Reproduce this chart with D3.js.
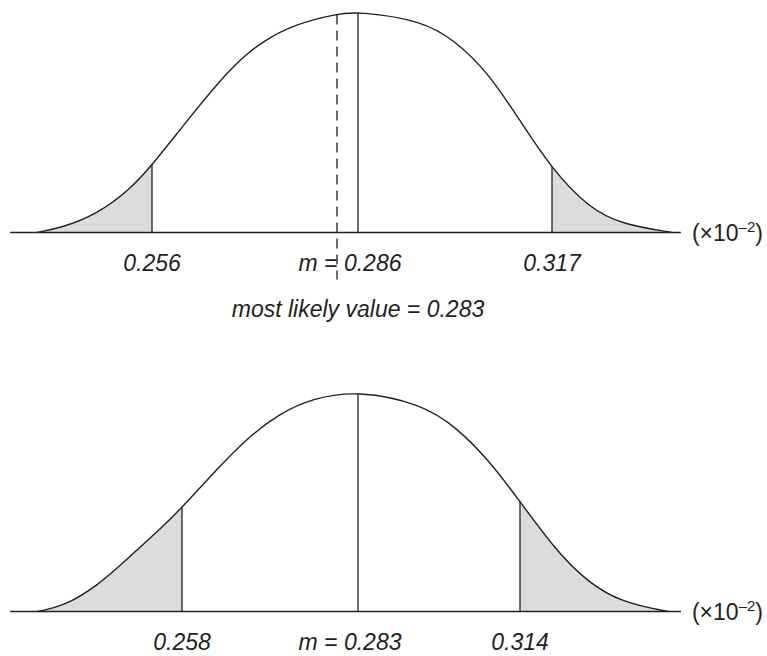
<!DOCTYPE html>
<html><head><meta charset="utf-8">
<script src="https://cdn.jsdelivr.net/npm/d3@7"></script>
<style>html,body{margin:0;padding:0;background:#fff;} svg{display:block;}</style>
</head><body><svg id="chart" width="767" height="656"></svg>
<script>
// ---------------- data (values in units of 10^-2) ----------------
const topCurveX = [0.2392,0.2430,0.2480,0.2528,0.256,0.2601,0.2674,0.2722,0.2772,0.283,0.286,0.2962,0.3015,0.3068,0.3122,0.317,0.3228,0.3282,0.3362];
const topCurveY = [0,0.023,0.084,0.195,0.305,0.466,0.747,0.869,0.946,0.989,1,0.959,0.869,0.724,0.493,0.287,0.113,0.036,0];
const topTails = [0.256, 0.317];
const topMean = 0.286;
const topMode = 0.283;
const topTickLabels = ["0.256", "m = 0.286", "0.317"];
const topNote = "most likely value = 0.283";
const topAxisExtent = [0.2353, 0.3376];

const botCurveX = [0.2375,0.2411,0.2459,0.2506,0.2553,0.258,0.2624,0.2672,0.2719,0.2766,0.283,0.2952,0.3016,0.3079,0.314,0.3207,0.3270,0.3335,0.3423];
const botCurveY = [0,0.023,0.113,0.249,0.385,0.471,0.625,0.784,0.897,0.965,1,0.938,0.838,0.689,0.498,0.281,0.131,0.041,0];
const botTails = [0.258, 0.314];
const botMean = 0.283;
const botTickLabels = ["0.258", "m = 0.283", "0.314"];
const botAxisExtent = [0.2336, 0.3448];

const unitBase = "(×10";
const unitExp = "–2";
const unitClose = ")";

// ---------------- layout ----------------
const INK = "#231f20";
const FILL = "#dcdcde";
const FONT = "'Liberation Sans', Arial, Helvetica, sans-serif";
const svg = d3.select("#chart");

const panels = [
  { curveX: topCurveX, curveY: topCurveY, tails: topTails, mean: topMean, mode: topMode,
    labels: topTickLabels, note: topNote, axisExtent: topAxisExtent,
    stops: [0.256, 0.283, 0.286, 0.317], stopPx: [152, 337, 358, 552],
    base: 232.5, height: 221, id: "t" },
  { curveX: botCurveX, curveY: botCurveY, tails: botTails, mean: botMean, mode: null,
    labels: botTickLabels, note: null, axisExtent: botAxisExtent,
    stops: [0.258, 0.283, 0.314], stopPx: [182, 358, 520],
    base: 611.5, height: 221, id: "b" }
];

const defs = svg.append("defs");

// find y of a path (monotone in x) at a given pixel x
function yOnPath(node, px) {
  const L = node.getTotalLength();
  let lo = 0, hi = L;
  for (let k = 0; k < 40; k++) {
    const mid = (lo + hi) / 2;
    if (node.getPointAtLength(mid).x < px) lo = mid; else hi = mid;
  }
  return node.getPointAtLength((lo + hi) / 2).y;
}

panels.forEach(p => {
  const x = d3.scaleLinear().domain(p.stops).range(p.stopPx);
  const y = d3.scaleLinear().domain([0, 1]).range([p.base, p.base - p.height]);
  const pts = p.curveX.map((v, i) => [v, p.curveY[i]]);
  const g = svg.append("g");
  const curve = d3.curveBasis;

  const area = d3.area().x(d => x(d[0])).y0(p.base).y1(d => y(d[1])).curve(curve);
  const line = d3.line().x(d => x(d[0])).y(d => y(d[1])).curve(curve);

  const x0 = x(p.curveX[0]), x1 = x(p.curveX[p.curveX.length - 1]);
  const clipL = defs.append("clipPath").attr("id", "cl" + p.id);
  clipL.append("rect").attr("x", x0 - 2).attr("y", p.base - p.height - 5)
    .attr("width", x(p.tails[0]) - x0 + 2).attr("height", p.height + 5);
  const clipR = defs.append("clipPath").attr("id", "cr" + p.id);
  clipR.append("rect").attr("x", x(p.tails[1])).attr("y", p.base - p.height - 5)
    .attr("width", x1 - x(p.tails[1]) + 2).attr("height", p.height + 5);

  g.append("path").datum(pts).attr("d", area).attr("fill", FILL).attr("clip-path", `url(#cl${p.id})`);
  g.append("path").datum(pts).attr("d", area).attr("fill", FILL).attr("clip-path", `url(#cr${p.id})`);

  // axis line
  g.append("line").attr("x1", x(p.axisExtent[0])).attr("x2", x(p.axisExtent[1]))
    .attr("y1", p.base).attr("y2", p.base).attr("stroke", INK).attr("stroke-width", 1.4);

  const vGroup = g.append("g");

  // curve
  const curvePath = g.append("path").datum(pts).attr("d", line).attr("fill", "none")
    .attr("stroke", INK).attr("stroke-width", 1.4);
  const node = curvePath.node();

  // tail verticals and mean vertical, up to the drawn curve
  [p.tails[0], p.mean, p.tails[1]].forEach(t => {
    vGroup.append("line").attr("x1", x(t)).attr("x2", x(t))
      .attr("y1", p.base).attr("y2", yOnPath(node, x(t)))
      .attr("stroke", INK).attr("stroke-width", 1.3);
  });

  // mode dashed line
  if (p.mode !== null) {
    vGroup.append("line").attr("x1", x(p.mode)).attr("x2", x(p.mode))
      .attr("y1", yOnPath(node, x(p.mode))).attr("y2", p.base + 47)
      .attr("stroke", INK).attr("stroke-width", 1.3).attr("stroke-dasharray", "10,6");
  }

  // tick labels
  const labelPos = [p.tails[0], p.mean, p.tails[1]];
  labelPos.forEach((v, i) => {
    g.append("text").attr("x", x(v) + (i === 1 ? -8 : 0)).attr("y", p.base + 38)
      .attr("text-anchor", "middle").attr("font-family", FONT).attr("font-style", "italic")
      .attr("font-size", 23).attr("fill", INK).text(p.labels[i]);
  });

  if (p.note) {
    g.append("text").attr("x", x(p.mean)).attr("y", p.base + 84)
      .attr("text-anchor", "middle").attr("font-family", FONT).attr("font-style", "italic")
      .attr("font-size", 23).attr("fill", INK).text(p.note);
  }

  // unit label
  const u = g.append("text").attr("x", x(p.axisExtent[1]) + 11).attr("y", p.base + 8)
    .attr("font-family", FONT).attr("font-size", 23).attr("fill", INK);
  u.append("tspan").text(unitBase);
  u.append("tspan").attr("font-size", 15).attr("dy", -9).text(unitExp);
  u.append("tspan").attr("dy", 9).text(unitClose);
});
</script>
</body></html>
